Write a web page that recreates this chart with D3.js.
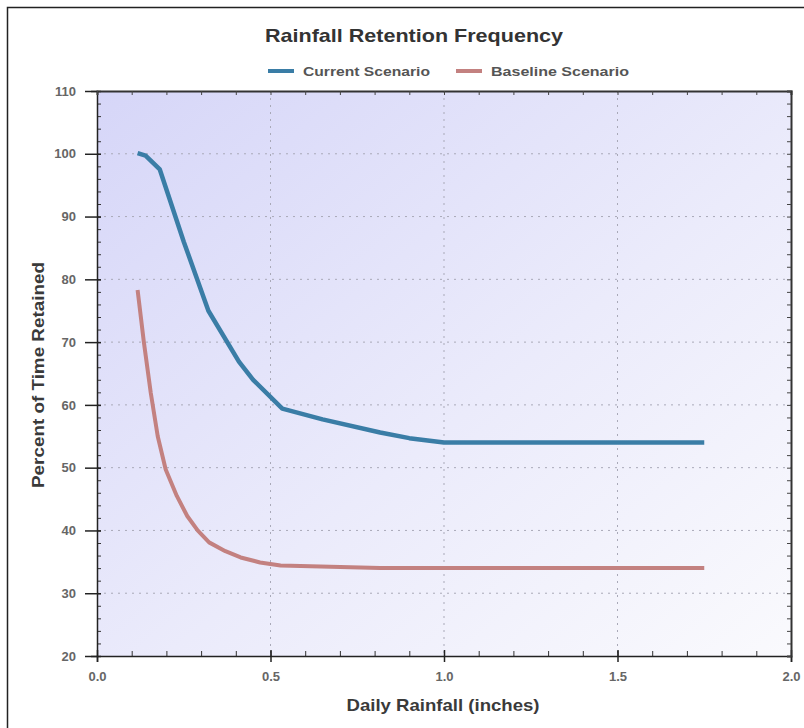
<!DOCTYPE html>
<html>
<head>
<meta charset="utf-8">
<script src="https://cdn.jsdelivr.net/npm/d3@7"></script>
<style>
  body { margin: 0; background: #fff; }
  svg { display: block; }
  text { font-family: "Liberation Sans", Arial, sans-serif; }
</style>
</head>
<body>
<svg id="chart" width="804" height="728"></svg>
<script>
// data
const currentX = [0.117, 0.14, 0.181, 0.25, 0.321, 0.409, 0.45, 0.534, 0.65, 0.816, 0.9, 1.0, 1.75];
const currentY = [100.1, 99.7, 97.5, 86.0, 75.0, 66.9, 64.0, 59.4, 57.7, 55.6, 54.7, 54.0, 54.0];
const baselineX = [0.117, 0.135, 0.155, 0.175, 0.198, 0.23, 0.26, 0.29, 0.323, 0.37, 0.414, 0.47, 0.529, 0.816, 1.75];
const baselineY = [78.3, 70.0, 61.9, 55.0, 49.7, 45.5, 42.3, 40.0, 38.1, 36.7, 35.7, 34.9, 34.4, 34.0, 34.0];
const seriesNames = ["Current Scenario", "Baseline Scenario"];
const seriesColors = ["#3a7da6", "#c38180"];
const xTicks = [0, 0.5, 1.0, 1.5, 2.0];
const yTicks = [20, 30, 40, 50, 60, 70, 80, 90, 100, 110];

const svg = d3.select("#chart");
const plotL = 97, plotR = 791, plotT = 91, plotB = 656;

const x = d3.scaleLinear().domain([0, 2]).range([plotL, plotR]);
const y = d3.scaleLinear().domain([20, 110]).range([plotB, plotT]);

// outer frame (right and bottom edges fall outside the picture)
svg.append("rect")
    .attr("x", 7.5).attr("y", 7.5)
    .attr("width", 810).attr("height", 730)
    .attr("fill", "#fff")
    .attr("stroke", "#222")
    .attr("stroke-width", 1.5);

// plot background gradient
const defs = svg.append("defs");
const grad = defs.append("linearGradient")
    .attr("id", "bg")
    .attr("x1", "0%").attr("y1", "0%")
    .attr("x2", "100%").attr("y2", "100%");
grad.append("stop").attr("offset", "0%").attr("stop-color", "#d6d6f8");
grad.append("stop").attr("offset", "55%").attr("stop-color", "#ebebfb");
grad.append("stop").attr("offset", "100%").attr("stop-color", "#fafafd");

svg.append("rect")
    .attr("x", plotL).attr("y", plotT)
    .attr("width", plotR - plotL).attr("height", plotB - plotT)
    .attr("fill", "url(#bg)");

// dotted grid
const grid = svg.append("g").attr("stroke", "#a9a9b8").attr("stroke-width", 1).attr("stroke-dasharray", "2,5");
grid.selectAll(".gx").data(xTicks.slice(1, -1)).join("line")
    .attr("x1", d => x(d)).attr("x2", d => x(d))
    .attr("y1", plotT).attr("y2", plotB);
grid.selectAll(".gy").data(yTicks.slice(1, -1)).join("line")
    .attr("x1", plotL).attr("x2", plotR)
    .attr("y1", d => y(d)).attr("y2", d => y(d));

// axes: left & bottom with labels, top & right ticks only
const minorY = d3.range(20, 110.1, 2);
const minorX = d3.range(0, 2.01, 0.1);

svg.append("g")
    .attr("transform", `translate(${plotL},0)`)
    .call(d3.axisLeft(y).tickValues(minorY).tickSize(-4).tickFormat(""))
    .call(g => g.select(".domain").remove())
    .call(g => g.selectAll("line").attr("stroke", "#333"));
svg.append("g")
    .attr("transform", `translate(${plotL},0)`)
    .call(d3.axisLeft(y).tickValues(yTicks).tickSize(6).tickFormat(d3.format("d")))
    .call(g => g.select(".domain").attr("stroke", "#222").attr("stroke-width", 1.5))
    .call(g => g.selectAll("line").attr("stroke", "#222").attr("stroke-width", 1.5).attr("x2", -12).attr("x1", 4))
    .call(g => g.selectAll("text").attr("font-size", 13).attr("font-weight", "bold").attr("fill", "#666").attr("x", -21));

svg.append("g")
    .attr("transform", `translate(0,${plotB})`)
    .call(d3.axisBottom(x).tickValues(minorX).tickSize(-5).tickFormat(""))
    .call(g => g.select(".domain").remove())
    .call(g => g.selectAll("line").attr("stroke", "#333"));
svg.append("g")
    .attr("transform", `translate(0,${plotB})`)
    .call(d3.axisBottom(x).tickValues(xTicks).tickSize(6).tickFormat(d3.format(".1f")))
    .call(g => g.select(".domain").attr("stroke", "#222").attr("stroke-width", 1.5))
    .call(g => g.selectAll("line").attr("stroke", "#222").attr("stroke-width", 1.5).attr("y1", -6))
    .call(g => g.selectAll("text").attr("font-size", 13).attr("font-weight", "bold").attr("fill", "#666").attr("y", 16));

svg.append("g")
    .attr("transform", `translate(0,${plotT})`)
    .call(d3.axisTop(x).tickValues(minorX).tickSize(-4).tickFormat(""))
    .call(g => g.select(".domain").attr("stroke", "#333").attr("stroke-width", 2))
    .call(g => g.selectAll("line").attr("stroke", "#444"));
svg.append("g")
    .attr("transform", `translate(${plotR},0)`)
    .call(d3.axisRight(y).tickValues(minorY).tickSize(-4).tickFormat(""))
    .call(g => g.select(".domain").attr("stroke", "#333").attr("stroke-width", 2))
    .call(g => g.selectAll("line").attr("stroke", "#444"));

// lines
const line = d3.line().x(d => x(d[0])).y(d => y(d[1]));
const seriesData = [
    d3.zip(currentX, currentY),
    d3.zip(baselineX, baselineY)
];
svg.append("g").selectAll("path").data(seriesData).join("path")
    .attr("d", line)
    .attr("fill", "none")
    .attr("stroke", (d, i) => seriesColors[i])
    .attr("stroke-width", (d, i) => i === 0 ? 4.5 : 4)
    .attr("stroke-linejoin", "round");

// title
svg.append("text")
    .attr("x", 414).attr("y", 42)
    .attr("text-anchor", "middle")
    .attr("font-size", 19).attr("font-weight", "bold").attr("fill", "#333")
    .attr("textLength", 298).attr("lengthAdjust", "spacingAndGlyphs")
    .text("Rainfall Retention Frequency");

// legend
const legendX = [268, 456];
const legendLen = [127, 138];
const legend = svg.append("g").selectAll("g").data(seriesNames).join("g")
    .attr("transform", (d, i) => `translate(${legendX[i]},71)`);
legend.append("line")
    .attr("x1", 0).attr("x2", 26)
    .attr("stroke", (d, i) => seriesColors[i])
    .attr("stroke-width", 4);
legend.append("text")
    .attr("x", 35).attr("y", 5)
    .attr("font-size", 13).attr("font-weight", "bold").attr("fill", "#555")
    .attr("textLength", (d, i) => legendLen[i]).attr("lengthAdjust", "spacingAndGlyphs")
    .text(d => d);

// axis titles
svg.append("text")
    .attr("x", 443).attr("y", 711)
    .attr("text-anchor", "middle")
    .attr("font-size", 17).attr("font-weight", "bold").attr("fill", "#3a3a3a")
    .attr("textLength", 193).attr("lengthAdjust", "spacingAndGlyphs")
    .text("Daily Rainfall (inches)");
svg.append("text")
    .attr("transform", "translate(44,375) rotate(-90)")
    .attr("text-anchor", "middle")
    .attr("font-size", 17).attr("font-weight", "bold").attr("fill", "#3a3a3a")
    .attr("textLength", 226).attr("lengthAdjust", "spacingAndGlyphs")
    .text("Percent of Time Retained");
</script>
</body>
</html>
